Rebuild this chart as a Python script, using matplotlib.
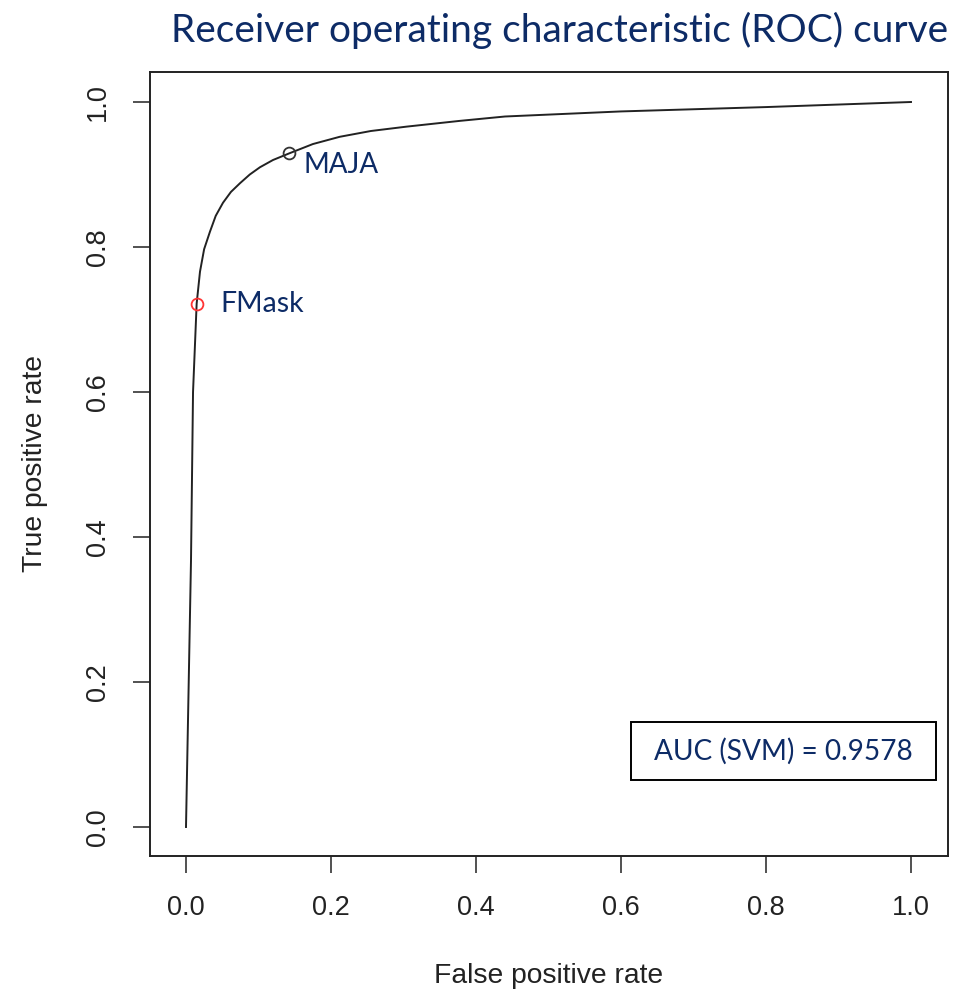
import matplotlib
matplotlib.use("Agg")
import matplotlib.pyplot as plt
from matplotlib.patches import Rectangle

# ROC curve values
fpr = [0.0, 0.0069, 0.0097, 0.0115, 0.0147, 0.0193, 0.025, 0.033, 0.041, 0.051,
       0.062, 0.0745, 0.088, 0.102, 0.12, 0.142, 0.175, 0.212, 0.255, 0.304,
       0.378, 0.44, 0.6, 0.8, 1.0]
tpr = [0.0, 0.368, 0.6, 0.644, 0.722, 0.766, 0.797, 0.821, 0.843, 0.861,
       0.876, 0.888, 0.900, 0.910, 0.920, 0.929, 0.942, 0.952, 0.960, 0.966,
       0.974, 0.980, 0.987, 0.993, 1.0]

points = ["MAJA", "FMask"]
point_fpr = [0.142, 0.0147]
point_tpr = [0.929, 0.722]
point_colors = ["#333333", "#ff3333"]

ticks = [0.0, 0.2, 0.4, 0.6, 0.8, 1.0]
tick_labels = ["0.0", "0.2", "0.4", "0.6", "0.8", "1.0"]
auc_text = "AUC (SVM) = 0.9578"

navy = "#0d2b66"
calibri_like = ["Lato", "DejaVu Sans"]
r_font = ["Liberation Sans", "DejaVu Sans"]

fig = plt.figure(figsize=(9.69, 9.90), dpi=100)
ax = fig.add_axes([150/969, 1-856/990, (948-150)/969, (856-72)/990])

ax.plot(fpr, tpr, color="#222222", lw=1.4)
for name, x, y, c in zip(points, point_fpr, point_tpr, point_colors):
    ax.plot([x], [y], marker="o", ms=8.5, mfc="none", mec=c, mew=1.3, ls="none")

ax.text(0.162, 0.9135, "MAJA", fontsize=20, color=navy, family=calibri_like,
        ha="left", va="center")
ax.text(0.0475, 0.722, "FMask", fontsize=20.5, color=navy, family=calibri_like,
        ha="left", va="center")

ax.add_patch(Rectangle((0.6138, 0.0648), 1.0345 - 0.6138, 0.1448 - 0.0648,
                       fc="white", ec="black", lw=1.4, zorder=3))
ax.text(0.824, 0.1048, auc_text, fontsize=20.2, color=navy, family=calibri_like,
        ha="center", va="center", zorder=4)

ax.set_xlim(-36/725, 1+37/725)
ax.set_ylim(-29/725, 1+30/725)
ax.set_xticks(ticks)
ax.set_xticklabels(tick_labels)
ax.set_yticks(ticks)
ax.set_yticklabels(tick_labels, rotation=90, va="center")
ax.tick_params(axis="both", length=12, width=1.2, color="#333333", pad=16,
               labelsize=19.5, labelcolor="#222222")
for lab in ax.get_xticklabels() + ax.get_yticklabels():
    lab.set_family(r_font)
for s in ax.spines.values():
    s.set_linewidth(1.4)
    s.set_color("#222222")

ax.set_xlabel("False positive rate", fontsize=20.3, family=r_font, color="#222222",
              labelpad=30)
ax.set_ylabel("True positive rate", fontsize=20.3, family=r_font, color="#222222",
              labelpad=27)

fig.text(560/969, 1-30/990, "Receiver operating characteristic (ROC) curve",
         fontsize=28, color=navy, family=calibri_like, ha="center", va="center")

fig.savefig("out.png", dpi=100)
